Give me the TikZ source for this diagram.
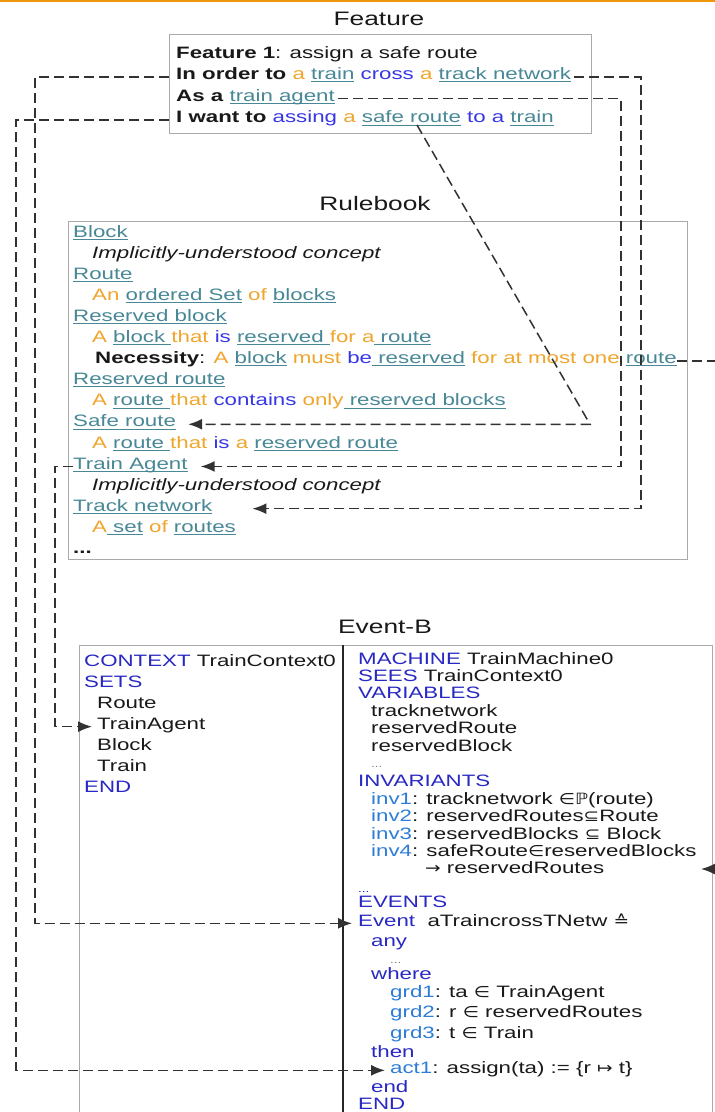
\documentclass[tikz,border=0pt]{standalone}
\usepackage{fontspec}
\setmainfont[FakeStretch=1.35]{Liberation Sans}
\newfontfamily\symb[FakeStretch=1.2]{DejaVu Sans}
\usepackage{xcolor}
\usepackage{tikz}
\usetikzlibrary{arrows.meta,positioning,calc}
\definecolor{bandeau}{RGB}{240,150,10}
\definecolor{terme}{RGB}{72,136,150}
\definecolor{ambre}{RGB}{240,165,45}
\definecolor{bleu}{RGB}{55,55,230}
\definecolor{motcle}{RGB}{40,40,195}
\definecolor{etiq}{RGB}{45,125,215}
\definecolor{texte}{RGB}{25,25,25}
\definecolor{cadre}{RGB}{170,170,170}
\definecolor{trait}{RGB}{50,50,50}
\newcommand{\term}[1]{\textcolor{terme}{\setbox0\hbox{#1}\rlap{\rule[-2.6pt]{\wd0}{0.9pt}}\box0}}
\newcommand{\ora}[1]{\textcolor{ambre}{#1}}
\newcommand{\blu}[1]{\textcolor{bleu}{#1}}
\newcommand{\kw}[1]{\textcolor{motcle}{#1}}
\newcommand{\lbl}[1]{\textcolor{etiq}{#1}}
\newcommand{\sy}[1]{{\symb\fontsize{15.5}{14}\selectfont #1}}
\newcommand{\pts}[1]{{\fontsize{10}{10}\selectfont\textcolor{#1}{...}}}

\begin{document}
\begin{tikzpicture}[x=1pt,y=-1pt,
    txt/.style={anchor=base west,inner sep=0pt,text=texte,font=\fontsize{16.5}{19}\selectfont},
    titre/.style={anchor=base,inner sep=0pt,text=texte,font=\fontsize{19.5}{22}\selectfont},
    boite/.style={draw=cadre,line width=1pt,anchor=north west,inner sep=0pt},
    lien/.style={trait,line width=1.5pt,dash pattern=on 10pt off 5pt,-{Latex[length=14pt,width=11pt]}}]
  % repere en pixels de l'image : y vers le bas
  \useasboundingbox (0,0) rectangle (715,1112);
  \clip (0,0) rectangle (715,1112);
  \fill[white] (0,0) rectangle (715,1112);
  \fill[bandeau] (0,0) rectangle (715,2);
  % cadres
  \node[titre] (tfeat) at (379,25) {Feature};
  \node[boite,minimum width=422pt,minimum height=99pt] (fbox) at (169,34) {};
  \node[titre] (trule) at (375,210) {Rulebook};
  \node[boite,minimum width=619pt,minimum height=338pt] (rbox) at (68,221) {};
  \node[titre] (tevb) at (385,633) {Event-B};
  \node[boite,minimum width=264pt,minimum height=500pt] (ctx) at (79,645) {};
  \node[boite,minimum width=369pt,minimum height=500pt] (mch) at (343,645) {};
  \draw[line width=1.4pt,black!85] (mch.north west) -- (mch.south west);
  % feature
  \foreach \t [count=\i] in {
      \textbf{Feature 1}: assign a safe route,
      \textbf{In order to} \ora{a} \term{train} \blu{cross} \ora{a} \term{track network},
      \textbf{As a} \term{train agent},
      \textbf{I want to} \blu{assing} \ora{a} \term{safe route} \blu{to a} \term{train}}
    \node[txt] (f\i) at (176,{58+21.6*(\i-1)}) {\t};
  % rulebook
  \foreach \d/\t [count=\i] in {
      73/\term{Block},
      92/\textit{Implicitly-understood concept},
      73/\term{Route},
      92/\ora{An} \term{ordered Set} \ora{of} \term{blocks},
      73/\term{Reserved block},
      92/\ora{A} \term{block\ }\ora{that} \blu{is} \term{reserved\ }\ora{for a}\term{\ route},
      95/\textbf{Necessity}: \ora{A} \term{block} \ora{must} \blu{be}\term{\ reserved} \ora{for at most one} \term{route},
      73/\term{Reserved route},
      92/\ora{A} \term{route\ }\ora{that} \blu{contains} \ora{only}\term{\ reserved blocks},
      73/\term{Safe route},
      92/\ora{A} \term{route\ }\ora{that} \blu{is} \ora{a} \term{reserved route},
      73/\term{Train Agent},
      92/\textit{Implicitly-understood concept},
      73/\term{Track network},
      92/\ora{A}\term{\ set} \ora{of} \term{routes},
      73/\textbf{...}}
    \node[txt] (r\i) at (\d,{237+21.1*(\i-1)}) {\t};
  % event-b : contexte
  \foreach \d/\t [count=\i] in {
      84/\kw{CONTEXT} TrainContext0, 84/\kw{SETS}, 97/Route, 97/TrainAgent,
      97/Block, 97/Train, 84/\kw{END}}
    \node[txt] (c\i) at (\d,{666+21.1*(\i-1)}) {\t};
  % event-b : machine
  \foreach \d/\y/\t [count=\i] in {
      358/664/\kw{MACHINE} TrainMachine0,
      358/681/\kw{SEES} TrainContext0,
      358/698/\kw{VARIABLES},
      371/716/tracknetwork,
      371/733/reservedRoute,
      371/751/reservedBlock,
      371/767/\pts{gray},
      358/786/\kw{INVARIANTS},
      371/804/\lbl{inv1}: tracknetwork \sy{∈}\sy{ℙ}(route),
      371/821/\lbl{inv2}: reservedRoutes\sy{⊆}Route,
      371/839/\lbl{inv3}: reservedBlocks \sy{⊆} Block,
      371/856/\lbl{inv4}: safeRoute\sy{∈}reservedBlocks,
      425/873/\sy{→} reservedRoutes,
      358/892/\pts{motcle},
      358/907/\kw{EVENTS},
      358/926/\kw{Event}\ \ aTraincrossTNetw \sy{≙},
      371/946/\kw{any},
      390/963/\pts{gray},
      371/979/\kw{where},
      390/997/\lbl{grd1}: ta \sy{∈} TrainAgent,
      390/1017/\lbl{grd2}: r \sy{∈} reservedRoutes,
      390/1038/\lbl{grd3}: t \sy{∈} Train,
      371/1057/\kw{then},
      390/1073/\lbl{act1}: assign(ta) := \{r \sy{↦} t\},
      371/1092/\kw{end},
      358/1109/\kw{END}}
    \node[txt] (m\i) at (\d,\y) {\t};
  % liens
  \coordinate (voieA) at (16,0);
  \coordinate (voieB) at (35,0);
  \coordinate (voieC) at (55,0);
  \coordinate (coin) at (590,0);
  \coordinate (voieD) at (621,0);
  \coordinate (voieE) at (641,0);
  \coordinate (voieF) at (724,0);
  \coordinate (sroute) at (417,125);
  \coordinate (inv4) at (701,869);
  \draw[lien,shorten >=6pt] (fbox.west |- f2.mid west) -| (voieB |- m16.mid west) -- (m16.mid west);
  \draw[lien,shorten <=3pt,shorten >=40pt] (f2.mid east) -| (voieE |- r14.mid east) -- (r14.mid east);
  \draw[lien,shorten <=3pt,shorten >=13pt] (f3.mid east) -| (voieD |- r12.mid east) -- (r12.mid east);
  \draw[lien,shorten >=5pt] (r12.mid west) -| (voieC |- c4.mid west) -- (c4.mid west);
  \draw[lien,shorten >=5pt] (fbox.west |- f4.mid west) -| (voieA |- m24.mid west) -- (m24.mid west);
  \draw[lien,shorten >=12pt] (sroute) -- (coin |- r10.mid east) -- (r10.mid east);
  \draw[lien] (r7.mid east) -| (voieF |- inv4) -- (inv4);
\end{tikzpicture}
\end{document}
